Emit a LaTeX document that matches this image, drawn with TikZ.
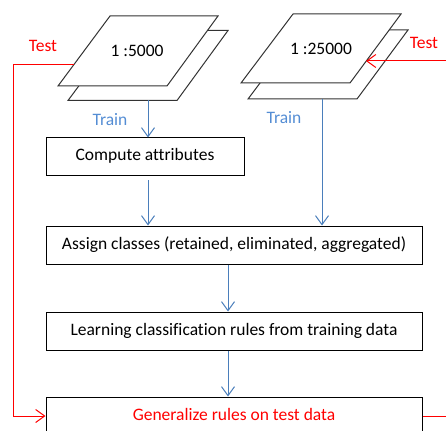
\documentclass[tikz,border=0pt]{standalone}
\usepackage{fontspec}
\setmainfont{Carlito}[Ligatures=NoCommon]
\usetikzlibrary{arrows.meta}
\definecolor{lblue}{RGB}{74,126,187}
\definecolor{tblue}{RGB}{84,141,212}
\definecolor{rred}{RGB}{255,0,0}
\begin{document}
\begin{tikzpicture}[x=1pt,y=-1pt,
  every node/.style={font=\fontsize{17.5}{20}\selectfont},
  box/.style={draw=black,line width=1pt,fill=white,minimum height=38pt,inner sep=0pt,text height=12pt,text depth=4pt},
  sheet/.style={draw=black!80,line width=1pt,fill=white,line join=miter},
  flow/.style={draw=lblue,line width=1pt,-{Straight Barb[length=9pt,width=13pt]}},
  testflow/.style={draw=rred,line width=1pt,-{Straight Barb[length=9pt,width=13pt]}},
  testlbl/.style={text=rred,inner sep=0pt},
  trainlbl/.style={text=tblue,inner sep=0pt}]
\useasboundingbox (0,0) rectangle (446,430);
\clip (0,0) rectangle (446,430);
% boxes
\node[box,minimum width=198pt] (compute) at (145,157) {Compute attributes};
\node[box,minimum width=376pt] (assign) at (234,245) {Assign classes (retained, eliminated, aggregated)};
\node[box,minimum width=376pt] (learn) at (234,331) {Learning classification rules from training data};
\node[box,minimum width=376pt,text=rred] (general) at (234,416) {Generalize rules on test data};
% sheets left
\draw[sheet] (120,30.5) -- (228,30.5) -- (177,100.5) -- (68,100.5) -- cycle;
\draw[sheet] (110,16) -- (218,16) -- (167,86) -- (58,86) -- cycle;
\node (s5000) at (137,51) {1 :5000};
% sheets right
\draw[sheet] (300,30) -- (408,30) -- (357,99) -- (248,99) -- cycle;
\draw[sheet] (293,14) -- (401,14) -- (350,83) -- (241,83) -- cycle;
\node (s25000) at (321,49) {1 :25000};
% coordinates
\coordinate (lsrc) at (148,100.5);
\coordinate (rsrc) at (322,99);
\coordinate (mid) at (228,0);
\coordinate (ltest) at (73.5,65);
\coordinate (lcorner) at (13,65);
\coordinate (rtest) at (446,61);
\coordinate (rtestend) at (366,61);
\coordinate (rout) at (446,416);
% flows
\draw[flow] (lsrc) -- (lsrc |- compute.north);
\draw[flow] (rsrc) -- (rsrc |- assign.north);
\draw[flow,shorten <=4pt] (lsrc |- compute.south) -- (lsrc |- assign.north);
\draw[flow] (mid |- assign.south) -- (mid |- learn.north);
\draw[flow] (mid |- learn.south) -- (mid |- general.north);
% test flows
\draw[testflow] (ltest) -- (lcorner) |- (general.west);
\draw[rred,line width=1pt] (general.east) -- (rout);
\draw[testflow] (rtest) -- (rtestend);
% labels
\node[testlbl] (tl) at (43,46) {Test};
\node[testlbl] (tr) at (424,43) {Test};
\node[trainlbl] (trl) at (110,120) {Train};
\node[trainlbl] (trr) at (284,118) {Train};
\end{tikzpicture}
\end{document}
